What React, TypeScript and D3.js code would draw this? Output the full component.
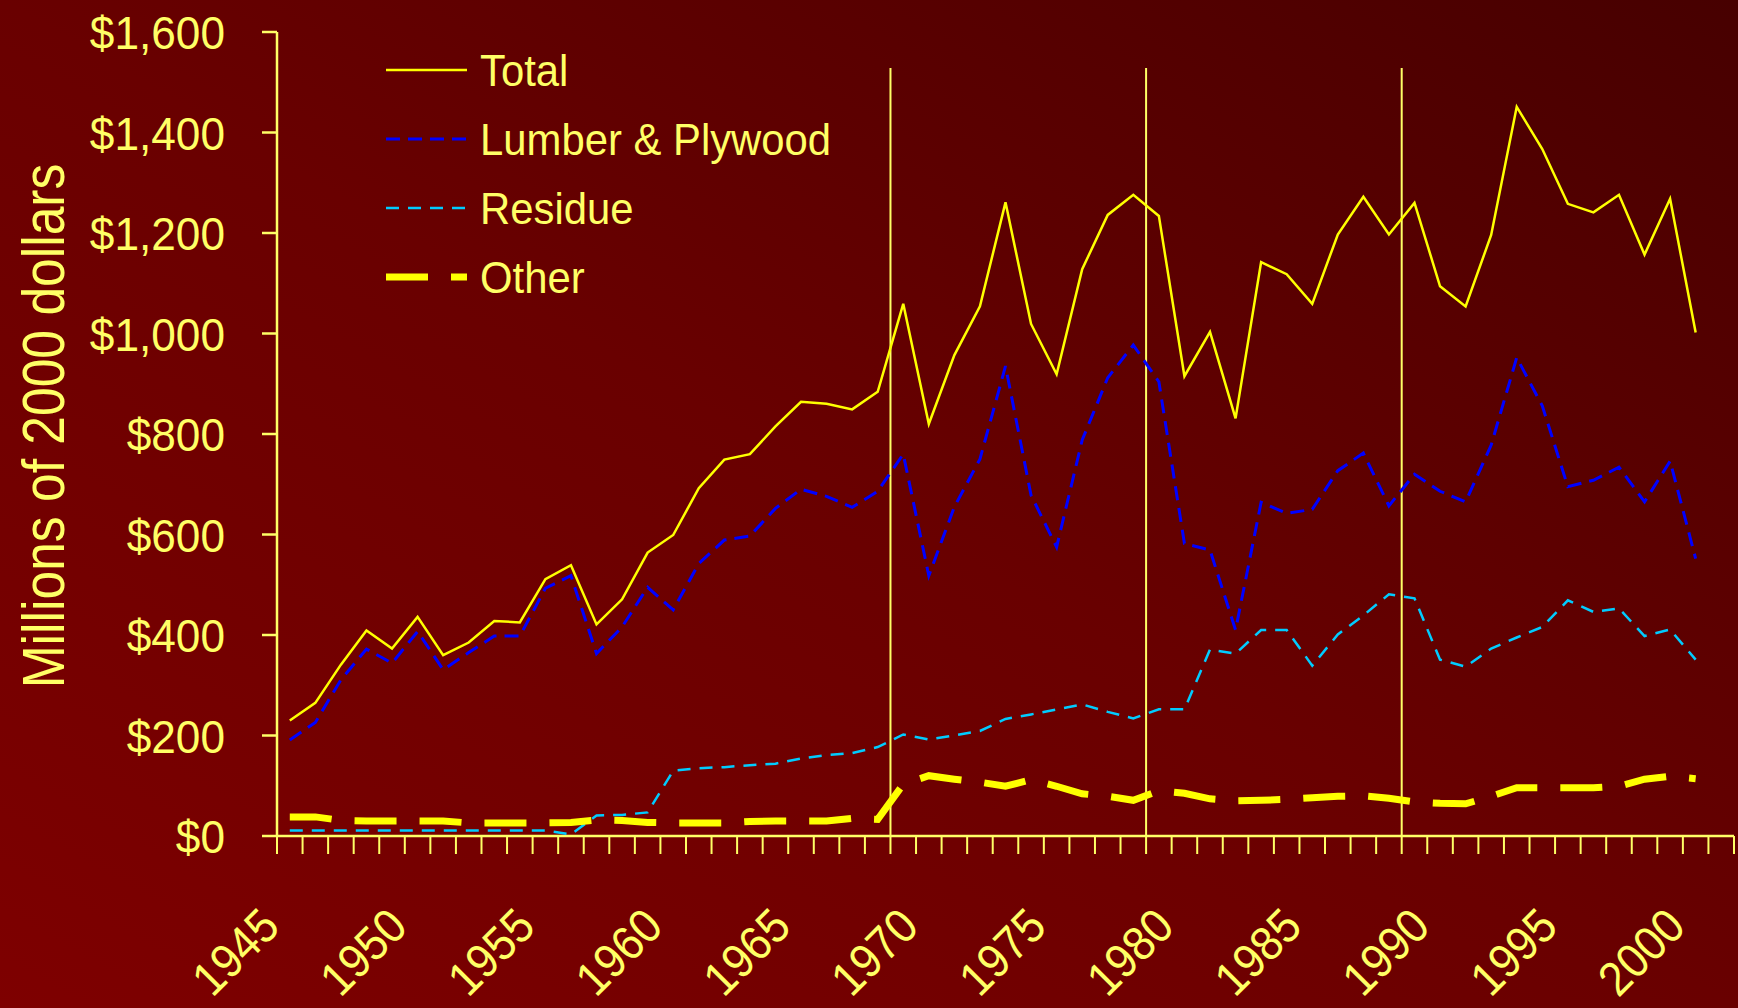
import * as d3 from 'd3'

// categories on the x axis (one band per year, last band is empty)
const YEARS = [
    1945, 1946, 1947, 1948, 1949, 1950, 1951, 1952, 1953, 1954,
    1955, 1956, 1957, 1958, 1959, 1960, 1961, 1962, 1963, 1964,
    1965, 1966, 1967, 1968, 1969, 1970, 1971, 1972, 1973, 1974,
    1975, 1976, 1977, 1978, 1979, 1980, 1981, 1982, 1983, 1984,
    1985, 1986, 1987, 1988, 1989, 1990, 1991, 1992, 1993, 1994,
    1995, 1996, 1997, 1998, 1999, 2000, 2001
]
const X_LABELS = [1945, 1950, 1955, 1960, 1965, 1970, 1975, 1980, 1985, 1990, 1995, 2000]
const REF_YEARS = [1969, 1979, 1989]
const Y_TICKS = [0, 200, 400, 600, 800, 1000, 1200, 1400, 1600]

// millions of 2000 dollars, 1945..2000
const TOTAL = [
    230, 265, 341, 409, 373, 436, 360, 385, 428, 425,
    511, 539, 421, 471, 564, 599, 692, 749, 760, 815,
    864, 860, 849, 884, 1059, 820, 957, 1054, 1261, 1019,
    919, 1128, 1236, 1276, 1234, 915, 1003, 831, 1142, 1118,
    1059, 1197, 1272, 1197, 1260, 1094, 1054, 1196, 1451, 1367,
    1258, 1241, 1276, 1157, 1268, 1002
]
const LUMBER = [
    191, 226, 311, 372, 344, 407, 331, 365, 398, 398,
    493, 518, 363, 416, 495, 450, 542, 589, 597, 652,
    690, 676, 654, 686, 760, 518, 655, 750, 935, 678,
    575, 788, 912, 977, 904, 582, 569, 410, 664, 642,
    650, 727, 762, 657, 720, 686, 665, 778, 952, 856,
    695, 708, 734, 665, 746, 552
]
const RESIDUE = [
    11, 11, 11, 11, 11, 11, 11, 11, 11, 11,
    11, 3, 41, 42, 47, 130, 135, 137, 141, 144,
    154, 161, 165, 177, 202, 192, 200, 209, 233, 242,
    252, 262, 247, 234, 252, 252, 371, 363, 410, 410,
    339, 401, 439, 481, 473, 351, 337, 373, 395, 416,
    469, 446, 453, 398, 411, 351
]
const OTHER = [
    38, 38, 31, 30, 30, 30, 30, 26, 26, 26,
    26, 27, 32, 31, 27, 26, 26, 26, 29, 30,
    30, 30, 35, 33, 103, 120, 113, 107, 99, 112,
    99, 84, 79, 71, 90, 85, 74, 70, 71, 73,
    76, 79, 80, 75, 68, 65, 64, 79, 96, 96,
    96, 96, 99, 113, 119, 114
]
const SERIES_NAMES = ['Total', 'Lumber & Plywood', 'Residue', 'Other']

const W = 1738
const H = 1008
const LEFT = 277
const RIGHT = 1734
const TOP = 32
const BOTTOM = 836
const INK = '#ffff66'
// Arial squeezed sideways stands in for the narrow face of the original
const FONT = "'Liberation Sans', Arial, sans-serif"

const LINESTYLE = [
    { color: '#ffff00', width: 2.5, dash: undefined },
    { color: '#0000ff', width: 3, dash: '14 8' },
    { color: '#00ccff', width: 2.5, dash: '13 9' },
    { color: '#ffff00', width: 7, dash: '42 23' },
]

export default function App() {
    const x = d3.scaleBand<number>().domain(YEARS).range([LEFT, RIGHT]).paddingInner(0).paddingOuter(0)
    const y = d3.scaleLinear().domain([0, 1600]).range([BOTTOM, TOP])
    const bw = x.bandwidth()
    const fmt = d3.format('$,.0f')

    const line = d3.line<number>()
        .x((d, i) => (x(YEARS[i]) as number) + bw / 2)
        .y(d => y(d))

    const series = [TOTAL, LUMBER, RESIDUE, OTHER]
    const boundaries = YEARS.map(yr => x(yr) as number).concat([RIGHT])

    return (
        <svg width={W} height={H} style={{ position: 'absolute', left: 0, top: 0 }} fontFamily={FONT}>
            <defs>
                <linearGradient id="bg" x1="0" y1="1" x2="1" y2="0">
                    <stop offset="0" stopColor="#7e0000" />
                    <stop offset="0.5" stopColor="#690000" />
                    <stop offset="1" stopColor="#470000" />
                </linearGradient>
            </defs>
            <rect x={0} y={0} width={W} height={H} fill="url(#bg)" />

            {/* y axis */}
            <line x1={LEFT} x2={LEFT} y1={TOP} y2={BOTTOM} stroke={INK} strokeWidth={2.5} />
            {Y_TICKS.map(t => (
                <g key={'yt' + t}>
                    <line x1={LEFT - 15} x2={LEFT} y1={y(t)} y2={y(t)} stroke={INK} strokeWidth={2.5} />
                    <g transform={`translate(225,${y(t) + 17}) scale(0.94,1)`}>
                        <text textAnchor="end" fontSize={47} fill={INK}>{fmt(t)}</text>
                    </g>
                </g>
            ))}
            <g transform={`translate(64,426) rotate(-90) scale(0.86,1)`}>
                <text textAnchor="middle" fontSize={60} fill={INK}>Millions of 2000 dollars</text>
            </g>

            {/* x axis */}
            <line x1={LEFT} x2={RIGHT} y1={BOTTOM} y2={BOTTOM} stroke={INK} strokeWidth={2.5} />
            {boundaries.map((bx, i) => (
                <line key={'xt' + i} x1={bx} x2={bx} y1={BOTTOM} y2={BOTTOM + 18} stroke={INK} strokeWidth={2} />
            ))}
            {X_LABELS.map(yr => {
                const ax = (x(yr) as number) + bw / 2 - 8
                return (
                    <g key={'xl' + yr} transform={`translate(${ax},929) rotate(-45) scale(0.92,1)`}>
                        <text textAnchor="end" fontSize={48} fill={INK}>{yr}</text>
                    </g>
                )
            })}

            {/* reference lines */}
            {REF_YEARS.map(yr => (
                <line key={'ref' + yr} x1={x(yr)} x2={x(yr)} y1={68} y2={BOTTOM} stroke={INK} strokeWidth={2} />
            ))}

            {/* series */}
            {series.map((s, i) => (
                <path key={'s' + i} d={line(s) || ''} fill="none"
                    stroke={LINESTYLE[i].color} strokeWidth={LINESTYLE[i].width}
                    strokeDasharray={LINESTYLE[i].dash} />
            ))}

            {/* legend */}
            {SERIES_NAMES.map((name, i) => {
                const ly = 70 + i * 69
                return (
                    <g key={'lg' + i}>
                        <line x1={386} x2={467} y1={ly} y2={ly} stroke={LINESTYLE[i].color}
                            strokeWidth={LINESTYLE[i].width} strokeDasharray={LINESTYLE[i].dash} />
                        <g transform={`translate(480,${ly + 16}) scale(0.93,1)`}>
                            <text fontSize={45} fill={INK}>{name}</text>
                        </g>
                    </g>
                )
            })}
        </svg>
    )
}
